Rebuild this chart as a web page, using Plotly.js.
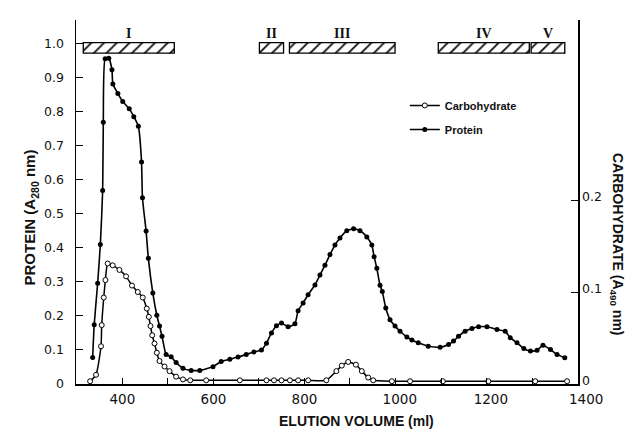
<!DOCTYPE html>
<html>
<head>
<meta charset="utf-8">
<script src="https://cdn.plot.ly/plotly-3.0.1.min.js"></script>
<style>html,body{margin:0;padding:0;background:#fff;}#chart{width:638px;height:431px;}</style>
</head>
<body>
<div id="chart"></div>
<script>
// Protein (A280) elution profile
var protX = [334.6,338,345.6,351.5,356.6,358,362,370,377,379,390,400.7,415,425,435,442,444,452,457,466.8,475.6,481.5,487,496,507,518,533,551,570,599,617,636,654,672,689,705.5,716.5,727.5,738.5,749.5,764,779,786,797,808,823,834,845,856,867,878,893,908,922,937,948,953,959,966,971,978.6,988,999,1010,1025,1036,1050,1072,1098,1116.5,1127.5,1138.5,1153,1168,1182.6,1201,1223,1241,1252,1267,1282,1296.5,1311,1324,1340.5,1355,1372];
var protY = [0.078,0.174,0.296,0.410,0.568,0.769,0.955,0.957,0.923,0.881,0.853,0.830,0.808,0.785,0.757,0.652,0.547,0.449,0.369,0.267,0.202,0.170,0.140,0.087,0.080,0.063,0.046,0.040,0.040,0.051,0.066,0.073,0.079,0.087,0.094,0.100,0.120,0.150,0.171,0.179,0.168,0.177,0.215,0.238,0.262,0.291,0.320,0.349,0.380,0.408,0.429,0.450,0.456,0.450,0.432,0.408,0.374,0.340,0.290,0.272,0.223,0.189,0.170,0.155,0.138,0.129,0.121,0.111,0.108,0.116,0.126,0.140,0.155,0.163,0.168,0.168,0.160,0.155,0.136,0.121,0.104,0.097,0.099,0.114,0.101,0.087,0.077];

// Carbohydrate (A490) elution profile
var carbX = [329,342,353,354.5,359,362.6,367.6,378.6,393.4,408,421,433.7,444.7,453.5,458,461.7,465.4,470.5,475.6,481.5,492.5,503.5,518,533,549,584,658,716.5,733,749.5,768,786,808,848,870,882,896,913,926,940,951,992,1032,1104,1204,1307,1377];
var carbY = [0.003,0.010,0.041,0.064,0.094,0.113,0.131,0.129,0.124,0.117,0.107,0.100,0.094,0.082,0.073,0.063,0.053,0.044,0.034,0.025,0.019,0.014,0.008,0.005,0.004,0.004,0.004,0.004,0.004,0.004,0.004,0.004,0.004,0.004,0.014,0.020,0.024,0.021,0.014,0.007,0.004,0.003,0.003,0.003,0.003,0.003,0.003];

// Pooled fractions
var fracLabels = ["I","II","III","IV","V"];
var fracStart = [314,701,767,1094,1298];
var fracEnd = [514,754,999,1294,1372];

// Axis ticks
var xTickVals = [400,600,800,1000,1200,1400];
var xTickText = ["400","600","800","\u20071000","\u20071200","\u2007\u20071400"];
var xMinorVals = [500,700,900,1100,1300];
var yTickVals = [0,0.1,0.2,0.3,0.4,0.5,0.6,0.7,0.8,0.9,1.0];
var yTickText = ["0","0.1","0.2","0.3","0.4","0.5","0.6","0.7","0.8","0.9","1.0"];
var y2TickVals = [0,0.1,0.2];
var y2TickText = ["0","0.1","0.2"];

var fracLen = fracStart.map(function(s,i){return fracEnd[i]-s;});
var fracMid = fracStart.map(function(s,i){return (s+fracEnd[i])/2;});

var traces = [
  {
    type:'bar', orientation:'h', x:fracLen, base:fracStart,
    y:fracStart.map(function(){return 0.987;}), width:0.031,
    xaxis:'x', yaxis:'y', showlegend:false, hoverinfo:'skip',
    marker:{color:'#ffffff', line:{color:'#000', width:1.3},
      pattern:{shape:'/', fgcolor:'#000', bgcolor:'#fff', size:9, solidity:0.18}}
  },
  {
    type:'scatter', mode:'lines+markers', name:'Carbohydrate',
    x:carbX, y:carbY, xaxis:'x', yaxis:'y2', legendgroup:'c',
    line:{color:'#000', width:1.5, shape:'spline', smoothing:0.5},
    marker:{symbol:'circle', size:5, color:'#fff', line:{color:'#000', width:1}}
  },
  {
    type:'scatter', mode:'lines+markers', name:'Protein',
    x:protX, y:protY, xaxis:'x', yaxis:'y', legendgroup:'p',
    line:{color:'#000', width:1.6, shape:'spline', smoothing:0.5},
    marker:{symbol:'circle', size:5, color:'#000'}
  }
];

var annotations = fracLabels.map(function(t,i){
  return {x:fracMid[i], y:1.03, xref:'x', yref:'y', text:t, showarrow:false,
    font:{family:'Liberation Serif', size:14, color:'#111', weight:'bold'}};
});
annotations.push({
  x:1.0996, y:0.382, xref:'paper', yref:'paper', textangle:90, showarrow:false,
  text:'<b>CARBOHYDRATE (A<sub>490</sub> nm)</b>',
  font:{family:'Liberation Sans', size:14, color:'#111'}
});
annotations.push({
  x:-0.1116, y:0.4588, xref:'paper', yref:'paper', textangle:-90, showarrow:false,
  text:'<b>PROTEIN (A<sub>280</sub> nm)</b>',
  font:{family:'Liberation Sans', size:15, color:'#111'}
});
annotations.push({
  x:0.558, y:-0.1016, xref:'paper', yref:'paper', yanchor:'middle', showarrow:false,
  text:'<b>ELUTION VOLUME (ml)</b>',
  font:{family:'Liberation Sans', size:14, color:'#111'}
});

var layout = {
  width:638, height:431,
  margin:{l:76, r:60, t:20, b:47},
  paper_bgcolor:'#fff', plot_bgcolor:'#fff',
  showlegend:true,
  legend:{x:0.655, y:0.805, xanchor:'left', yanchor:'top', bgcolor:'rgba(0,0,0,0)',
    font:{family:'Liberation Sans', size:11, color:'#111', weight:'bold'},
    tracegroupgap:5, itemwidth:30, traceorder:'grouped'},
  barmode:'overlay',
  xaxis:{range:[298,1401], showgrid:false, zeroline:false, showline:true, linecolor:'#000', linewidth:1.5,
    tickmode:'array', tickvals:xTickVals, ticktext:xTickText, ticks:'inside', ticklen:6, tickcolor:'#000',
    minor:{tickmode:'array', tickvals:xMinorVals, ticks:'inside', ticklen:6, tickcolor:'#000'},
    ticklabelstandoff:2,
    tickfont:{family:'DejaVu Sans', size:13.5, color:'#111'}},
  yaxis:{range:[0,1.069], showgrid:false, zeroline:false, showline:true, linecolor:'#000', linewidth:1.5,
    tickmode:'array', tickvals:yTickVals, ticktext:yTickText, ticks:'inside', ticklen:7, tickcolor:'#000',
    ticklabelstandoff:8,
    tickfont:{family:'DejaVu Sans', size:12.5, color:'#111'}},
  yaxis2:{range:[0,0.3957], overlaying:'y', side:'right', showgrid:false, zeroline:false, showline:true,
    linecolor:'#000', linewidth:1.5,
    tickmode:'array', tickvals:y2TickVals, ticktext:y2TickText, ticks:'inside', ticklen:7, tickcolor:'#000',
    ticklabelshift:-3,
    tickfont:{family:'DejaVu Sans', size:12.5, color:'#111'}},
  annotations:annotations,
  hovermode:false
};

Plotly.newPlot('chart', traces, layout, {staticPlot:true, displayModeBar:false});
</script>
</body>
</html>
